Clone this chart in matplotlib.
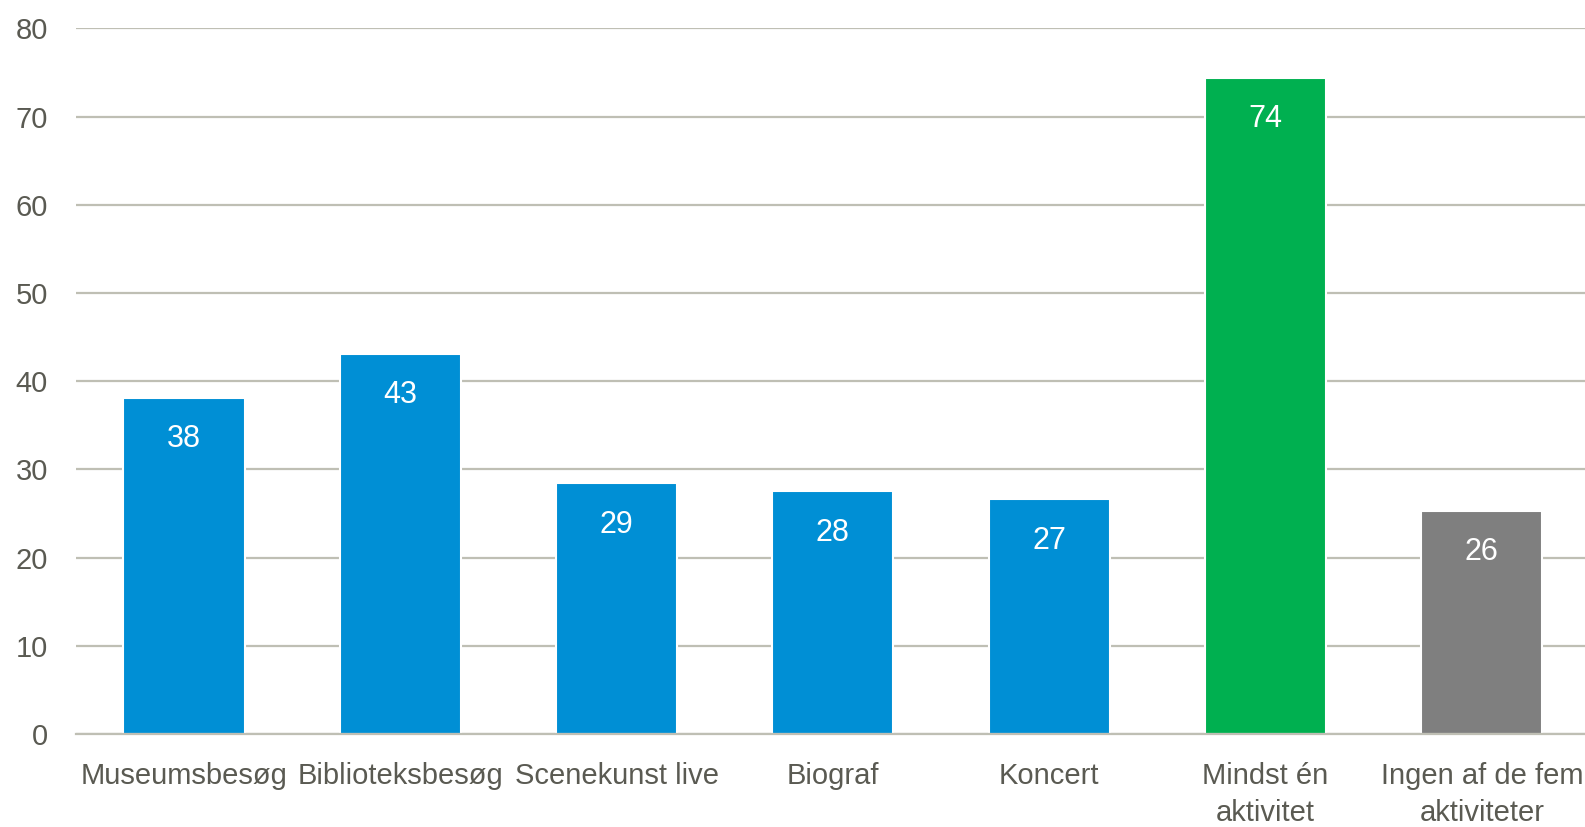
import matplotlib
matplotlib.use("Agg")
import matplotlib.pyplot as plt
from matplotlib import font_manager as fm

categories = ["Museumsbesøg", "Biblioteksbesøg", "Scenekunst live", "Biograf",
              "Koncert", "Mindst én\naktivitet", "Ingen af de fem\naktiviteter"]
values = [38.1, 43.1, 28.4, 27.5, 26.6, 74.4, 25.3]
value_labels = ["38", "43", "29", "28", "27", "74", "26"]
colors = ["#008FD5", "#008FD5", "#008FD5", "#008FD5", "#008FD5", "#00B050", "#7F7F7F"]
yticks = [0, 10, 20, 30, 40, 50, 60, 70, 80]

names = {f.name for f in fm.fontManager.ttflist}
fam = ["Liberation Sans Narrow", "DejaVu Sans"] if "Liberation Sans Narrow" in names else ["Liberation Sans", "DejaVu Sans"]
plt.rcParams["font.family"] = fam

txt = "#5A5A52"
grid = "#BFBFB4"

W, H = 1585, 827
left, top, bottom, right = 75.8, 28.3, 734, 75.8 + 7 * 216.3
fig = plt.figure(figsize=(W / 100, H / 100), dpi=100)
ax = fig.add_axes([left / W, 1 - bottom / H, (right - left) / W, (bottom - top) / H])

x = list(range(len(categories)))
ax.bar(x, values, width=0.56, color=colors, edgecolor="white", linewidth=1.5, zorder=3)
for xi, v, lab in zip(x, values, value_labels):
    ax.text(xi, v - 4.7, lab, ha="center", va="center", color="white", fontsize=22, zorder=4)

ax.set_xlim(-0.5, 6.5)
ax.set_ylim(0, 80)
ax.set_yticks(yticks)
ax.yaxis.grid(True, color=grid, linewidth=1.6, zorder=0)
for s in ["top", "right", "left"]:
    ax.spines[s].set_visible(False)
ax.spines["bottom"].set_color(grid)
ax.spines["bottom"].set_linewidth(1.6)
ax.spines["bottom"].set_zorder(5)
ax.set_xticks(x)
ax.set_xticklabels(categories, fontsize=21, color=txt, linespacing=1.4)
ax.tick_params(axis="x", length=0, pad=20)
ax.tick_params(axis="y", length=0, pad=20, labelsize=21, labelcolor=txt)

fig.savefig("out.png", dpi=100)
